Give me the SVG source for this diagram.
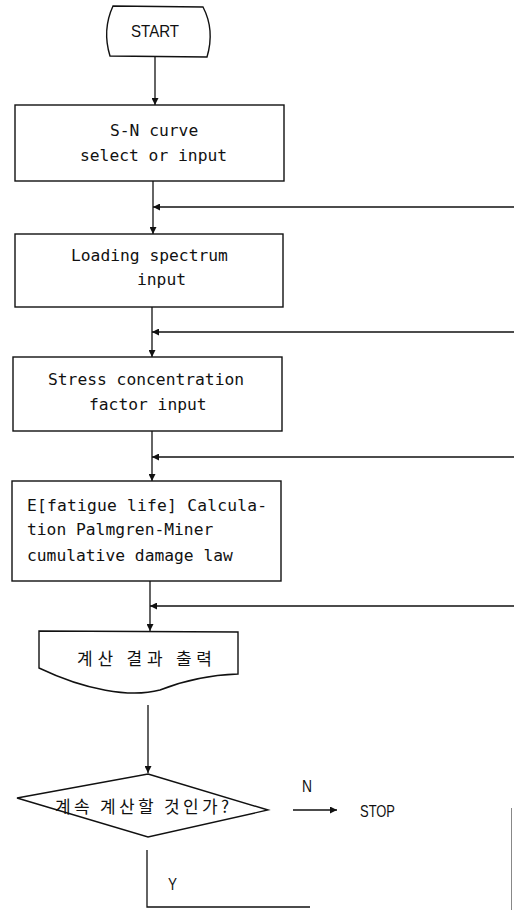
<svg xmlns="http://www.w3.org/2000/svg" width="514" height="910" viewBox="0 0 514 910">
<style>
.shape{fill:#fff;stroke:#111;stroke-width:1.4}
.ln{fill:none;stroke:#111;stroke-width:1.3}
.mono{font-family:"DejaVu Sans Mono","Liberation Mono",monospace;font-size:16.3px;fill:#111}
.sans{font-family:"Liberation Sans",Arial,sans-serif;font-size:17px;fill:#111}
.kr{font-family:"Noto Sans CJK KR","Noto Sans CJK SC",sans-serif;font-size:17px;fill:#111}
</style>
<defs>
<marker id="ah" viewBox="0 0 10 10" refX="10" refY="5" markerWidth="7" markerHeight="7" markerUnits="userSpaceOnUse" orient="auto">
<path d="M0,0 L10,5 L0,10 Z" fill="#111"/>
</marker>
</defs>
<rect width="514" height="910" fill="#fff"/>
<g id="connectors">
<line class="ln" x1="155" y1="57" x2="155" y2="105" marker-end="url(#ah)"/>
<line class="ln" x1="153" y1="181" x2="153" y2="234" marker-end="url(#ah)"/>
<line class="ln" x1="514" y1="207" x2="153" y2="207" marker-end="url(#ah)"/>
<line class="ln" x1="152" y1="307" x2="152" y2="357" marker-end="url(#ah)"/>
<line class="ln" x1="514" y1="332" x2="152" y2="332" marker-end="url(#ah)"/>
<line class="ln" x1="152" y1="431" x2="152" y2="481" marker-end="url(#ah)"/>
<line class="ln" x1="514" y1="457" x2="152" y2="457" marker-end="url(#ah)"/>
<line class="ln" x1="150" y1="581" x2="150" y2="631" marker-end="url(#ah)"/>
<line class="ln" x1="514" y1="606" x2="150" y2="606" marker-end="url(#ah)"/>
<line class="ln" x1="148" y1="705" x2="148" y2="773" marker-end="url(#ah)"/>
<line class="ln" x1="293" y1="810" x2="337" y2="810" marker-end="url(#ah)"/>
<polyline class="ln" points="147,850 147,907 310,907"/>
<line x1="511.5" y1="808" x2="511.5" y2="910" stroke="#888" stroke-width="1"/>
<text class="sans" x="302" y="792" textLength="10" lengthAdjust="spacingAndGlyphs">N</text>
<text class="sans" x="168" y="890" textLength="9" lengthAdjust="spacingAndGlyphs">Y</text>
</g>
<g id="start">
<path class="shape" d="M113,6 L203,7 Q215,30 207,57 L110,56 Q102,30 113,6 Z"/>
<text class="sans" x="131" y="37" textLength="48" lengthAdjust="spacingAndGlyphs">START</text>
</g>
<g id="sn-curve">
<rect class="shape" x="15" y="105" width="269" height="76"/>
<text class="mono" x="110" y="136">S-N curve</text>
<text class="mono" x="80" y="161">select or input</text>
</g>
<g id="loading">
<rect class="shape" x="15" y="234" width="268" height="73"/>
<text class="mono" x="71" y="261">Loading spectrum</text>
<text class="mono" x="137" y="285">input</text>
</g>
<g id="stress">
<rect class="shape" x="13" y="357" width="269" height="74"/>
<text class="mono" x="48" y="385">Stress concentration</text>
<text class="mono" x="89" y="410">factor input</text>
</g>
<g id="fatigue">
<rect class="shape" x="12" y="481" width="269" height="100"/>
<text class="mono" x="27" y="511" textLength="240" lengthAdjust="spacing">E[fatigue life] Calcula-</text>
<text class="mono" x="27" y="535">tion Palmgren-Miner</text>
<text class="mono" x="27" y="561">cumulative damage law</text>
</g>
<g id="output">
<path class="shape" d="M39,631 L238,632 L238,674 C210,675 185,680 160,690 C130,698 85,690 39,668 Z"/>
<text class="kr" x="77" y="665" textLength="135" lengthAdjust="spacing">계산 결과 출력</text>
</g>
<g id="decision">
<polygon class="shape" points="148,774 268,810 148,837 17,798"/>
<text class="kr" x="55" y="813" textLength="174" lengthAdjust="spacing">계속 계산할 것인가?</text>
</g>
<g id="stop">
<text class="sans" x="360" y="817" textLength="35" lengthAdjust="spacingAndGlyphs">STOP</text>
</g>
</svg>
